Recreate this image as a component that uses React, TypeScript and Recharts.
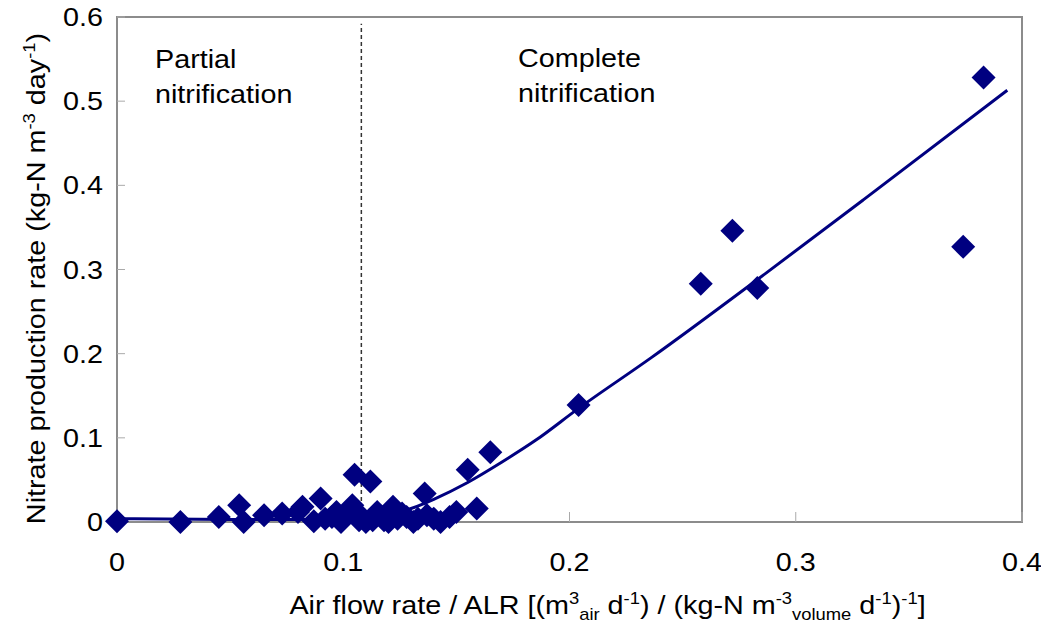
import { ComposedChart, Line, ReferenceArea, ReferenceLine, Scatter, XAxis, YAxis } from "recharts";

// measured points (air flow rate / ALR vs nitrate production rate)
const ptX = [
  0.0, 0.028, 0.045, 0.054, 0.056, 0.065, 0.073, 0.08, 0.082, 0.087, 0.09, 0.092, 0.095, 0.097, 0.099,
  0.1, 0.102, 0.104, 0.105, 0.106, 0.107, 0.108, 0.11, 0.112, 0.113, 0.115, 0.117, 0.118, 0.12, 0.122,
  0.124, 0.126, 0.128, 0.131, 0.133, 0.136, 0.137, 0.14, 0.143, 0.147, 0.15, 0.155, 0.159, 0.165,
  0.204, 0.258, 0.272, 0.283, 0.374, 0.383,
];
const ptY = [
  0.001, 0.0, 0.006, 0.02, 0.0, 0.008, 0.01, 0.012, 0.018, 0.001, 0.028, 0.004, 0.006, 0.012, 0.0,
  0.004, 0.01, 0.02, 0.056, 0.012, 0.002, 0.006, 0.0, 0.048, 0.002, 0.012, 0.006, 0.002, 0.0, 0.018,
  0.004, 0.01, 0.006, 0.0, 0.004, 0.034, 0.008, 0.004, 0.0, 0.006, 0.012, 0.062, 0.016, 0.083,
  0.139, 0.283, 0.346, 0.278, 0.327, 0.528,
];

// fitted curve
const fitX = [0, 0.05, 0.1, 0.11, 0.12, 0.13, 0.14, 0.155, 0.17, 0.185, 0.204, 0.236, 0.287, 0.33, 0.3935];
const fitY = [0.004, 0.003, 0.003, 0.004, 0.008, 0.016, 0.027, 0.047, 0.071, 0.097, 0.135, 0.195, 0.296, 0.383, 0.513];

const xTicks = [0, 0.1, 0.2, 0.3, 0.4];
const yTicks = [0, 0.1, 0.2, 0.3, 0.4, 0.5, 0.6];

const points = ptX.map((x, i) => ({ x, y: ptY[i] }));
const fit = fitX.map((x, i) => ({ x, y: fitY[i] }));

const NAVY = "#000080";
const FONT = "'Liberation Sans', Arial, sans-serif";
const SX = 1.15; // the original lettering is a little wide
const fmt = (v: number) => (v === 0 ? "0" : v.toFixed(1));

const Diamond = (p: any) => {
  const { cx, cy } = p;
  if (cx == null || cy == null) return null;
  const r = 12;
  return <path d={`M${cx},${cy - r}L${cx + r},${cy}L${cx},${cy + r}L${cx - r},${cy}Z`} fill={NAVY} />;
};

const YTick = ({ x, y, payload }: any) => (
  <text transform={`translate(${x},${y}) scale(${SX},1)`} textAnchor="end" dy="0.36em" fontSize={25} fontFamily={FONT} fill="#000">
    {fmt(payload.value)}
  </text>
);

const XTick = ({ x, y, payload }: any) => (
  <text transform={`translate(${x},${y}) scale(${SX},1)`} textAnchor="middle" dy="0.72em" fontSize={25} fontFamily={FONT} fill="#000">
    {fmt(payload.value)}
  </text>
);

const YTitle = ({ viewBox }: any) => {
  const cx = viewBox.x + 28;
  const cy = viewBox.y + viewBox.height / 2 + 9;
  return (
    <text transform={`translate(${cx},${cy}) rotate(-90) scale(${SX},1)`} textAnchor="middle" fontSize={25} fontFamily={FONT} fill="#000">
      {"Nitrate production rate (kg-N m"}
      <tspan dy={-10} fontSize={16}>{"-3"}</tspan>
      <tspan dy={10}>{" day"}</tspan>
      <tspan dy={-10} fontSize={16}>{"-1"}</tspan>
      <tspan dy={10}>{")"}</tspan>
    </text>
  );
};

const XTitle = ({ viewBox }: any) => {
  const cx = viewBox.x + viewBox.width / 2 + 38;
  const y = viewBox.y + 92;
  return (
    <text transform={`translate(${cx},${y}) scale(${SX},1)`} textAnchor="middle" fontSize={25} fontFamily={FONT} fill="#000">
      {"Air flow rate / ALR [(m"}
      <tspan dy={-10} fontSize={16}>{"3"}</tspan>
      <tspan dy={16} fontSize={16}>{"air"}</tspan>
      <tspan dy={-6}>{" d"}</tspan>
      <tspan dy={-10} fontSize={16}>{"-1"}</tspan>
      <tspan dy={10}>{") / (kg-N  m"}</tspan>
      <tspan dy={-10} fontSize={16}>{"-3"}</tspan>
      <tspan dy={16} fontSize={16}>{"volume"}</tspan>
      <tspan dy={-6}>{"  d"}</tspan>
      <tspan dy={-10} fontSize={16}>{"-1"}</tspan>
      <tspan dy={10}>{")"}</tspan>
      <tspan dy={-10} fontSize={16}>{"-1"}</tspan>
      <tspan dy={10}>{"]"}</tspan>
    </text>
  );
};

const Note = ({ x, y, lines }: { x: number; y: number; lines: string[] }) => (
  <text transform={`translate(${x},${y}) scale(${SX},1)`} fontSize={25} fontFamily={FONT} fill="#000">
    {lines.map((l, i) => (
      <tspan key={l} x={0} y={i * 35}>
        {l}
      </tspan>
    ))}
  </text>
);

export default function App() {
  return (
    <div style={{ position: "relative", width: 1041, height: 628, marginTop: -8, background: "#fff" }}>
      <ComposedChart width={1041} height={628} margin={{ top: 17, right: 27, left: 9, bottom: 26 }}>
        <ReferenceArea x1={0} x2={0.4} y1={0} y2={0.6} fill="none" stroke="#8c8c8c" strokeWidth={2} fillOpacity={0} />
        <ReferenceLine
          segment={[{ x: 0.108, y: 0 }, { x: 0.108, y: 0.592 }]}
          stroke="#333"
          strokeWidth={1.5}
          strokeDasharray="4 3"
        />
        <XAxis
          type="number"
          dataKey="x"
          domain={[0, 0.4]}
          ticks={xTicks}
          height={80}
          axisLine={false}
          tickSize={-10}
          tickMargin={41}
          tickLine={{ stroke: "#aaa" }}
          tick={<XTick />}
          label={<XTitle />}
        />
        <YAxis
          type="number"
          dataKey="y"
          domain={[0, 0.6]}
          ticks={yTicks}
          width={100}
          axisLine={false}
          tickSize={-8}
          tickMargin={22}
          tickLine={{ stroke: "#aaa" }}
          tick={<YTick />}
          label={<YTitle />}
        />
        <Line
          data={fit}
          dataKey="y"
          type="monotone"
          stroke={NAVY}
          strokeWidth={3}
          dot={false}
          isAnimationActive={false}
        />
        <Scatter data={points} dataKey="y" shape={Diamond} isAnimationActive={false} />
      </ComposedChart>
      <svg width={1041} height={628} style={{ position: "absolute", left: 0, top: 0, pointerEvents: "none" }}>
        <Note x={147} y={68} lines={["Partial", "nitrification"]} />
        <Note x={510} y={67} lines={["Complete", "nitrification"]} />
      </svg>
    </div>
  );
}
